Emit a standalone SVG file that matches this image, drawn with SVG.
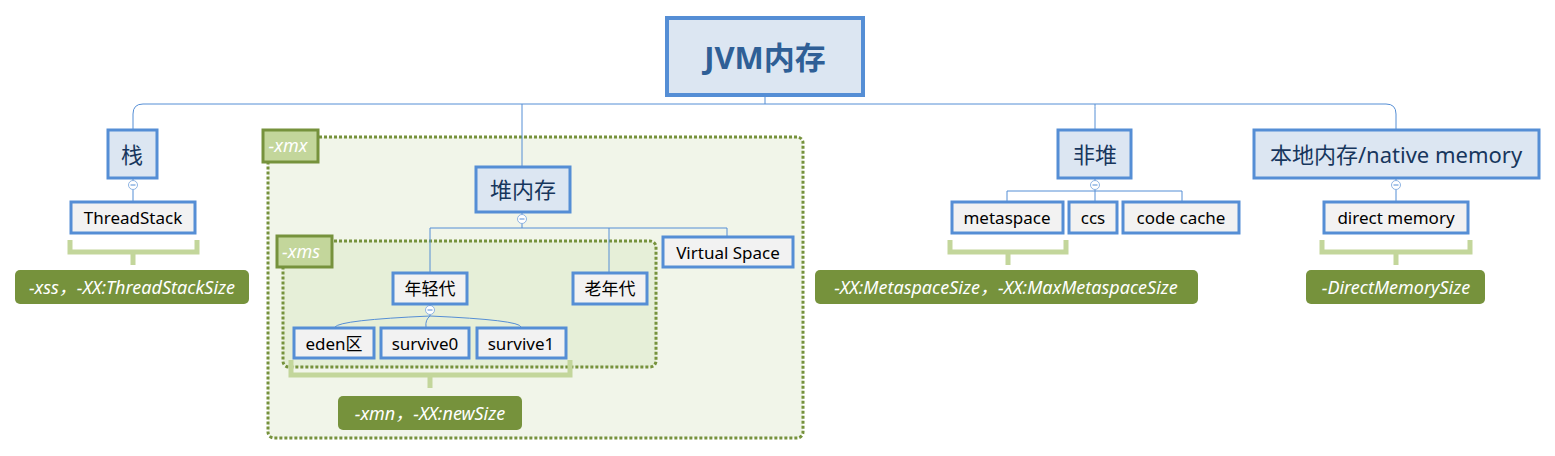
<svg xmlns="http://www.w3.org/2000/svg" width="1555" height="456" viewBox="0 0 1555 456">
<style>
text{font-family:"Noto Sans","Noto Sans CJK SC",sans-serif;text-anchor:middle;dominant-baseline:central}
.main{fill:#dce6f2;stroke:#558ed5;stroke-width:3}
.sub{fill:#f2f2f2;stroke:#558ed5;stroke-width:3}
.t1{font-size:22px;fill:#17365d}
.t2{font-size:17px;fill:#000}
.lab{fill:#76923c}
.lt{font-size:18px;fill:#fff;font-style:italic}
.br{fill:none;stroke:#c3d69b;stroke-width:5}
.con{fill:none;stroke:#558ed5;stroke-width:1}
.col{fill:#fff;stroke:#8eb4e3;stroke-width:1}
.tag{fill:#c3d69b;stroke:#76923c;stroke-width:3}
.tt{font-size:18px;fill:#fff;font-style:italic}
.zone{stroke:#76923c;stroke-width:3;stroke-dasharray:3 2}
</style>
<g id="zone-xmx">
<rect x="268" y="137" width="535" height="301" rx="6" class="zone" fill="#f1f5e9"/>
<rect x="263" y="130" width="55" height="32" class="tag"/>
<text x="288" y="145" class="tt">-xmx</text>
</g>
<g id="zone-xms">
<rect x="283" y="241" width="373" height="126" rx="6" class="zone" fill="#e6efd8"/>
<rect x="277" y="236" width="55" height="31" class="tag"/>
<text x="301" y="251" class="tt">-xms</text>
</g>
<g id="connectors">
<path class="con" d="M765 97V104M133 129V114Q133 104 143 104H1386Q1396 104 1396 114V129M522 104V166M1095 104Q1095 104 1095 114V129"/>
<path class="con" d="M133 178V201M1396 178V201"/>
<path class="con" d="M522 212V228M430 228H727M430 228V272M609 228V272M727 228V236"/>
<path class="con" d="M1095 178V191M1007 191H1182M1007 191V201M1095 191V201M1182 191V201"/>
<path class="con" d="M430 304V316M335 327Q340 320 430 316Q520 320 521 327M430 316Q425 320 426 327"/>
<circle cx="133" cy="185" r="4.5" class="col"/>
<circle cx="522" cy="219" r="4.5" class="col"/>
<circle cx="430" cy="310" r="4.5" class="col"/>
<circle cx="1095" cy="185" r="4.5" class="col"/>
<circle cx="1396" cy="185" r="4.5" class="col"/>
<path d="M130.5 185h5M519.5 219h5M427.5 310h5M1092.5 185h5M1393.5 185h5" stroke="#558ed5" stroke-width="1"/>
</g>
<g id="root">
<rect x="667" y="18" width="196" height="77" fill="#dce6f2" stroke="#558ed5" stroke-width="4"/>
<text x="765" y="57" font-size="31" font-weight="bold" fill="#2f5f96">JVM内存</text>
</g>
<g id="stack">
<rect x="108" y="130" width="49" height="48" class="main"/>
<text x="132" y="154" class="t1">栈</text>
</g>
<g id="threadstack">
<rect x="71" y="202" width="124" height="31" class="sub"/>
<text x="133" y="217" class="t2">ThreadStack</text>
</g>
<g id="bracket-stack">
<path class="br" d="M70 240V252H197V240M133 252V265"/>
<rect x="15" y="270" width="234" height="34" rx="5" class="lab"/>
<text x="132" y="287" class="lt">-xss，-XX:ThreadStackSize</text>
</g>
<g id="heap">
<rect x="476" y="167" width="94" height="45" class="main"/>
<text x="523" y="189" class="t1">堆内存</text>
</g>
<g id="young">
<rect x="393" y="273" width="74" height="31" class="sub"/>
<text x="430" y="288" class="t2">年轻代</text>
</g>
<g id="old">
<rect x="573" y="273" width="74" height="31" class="sub"/>
<text x="610" y="288" class="t2">老年代</text>
</g>
<g id="virtual">
<rect x="663" y="237" width="130" height="30" class="sub"/>
<text x="728" y="252" class="t2">Virtual Space</text>
</g>
<g id="eden">
<rect x="294" y="328" width="80" height="30" class="sub"/>
<text x="334" y="343" class="t2">eden区</text>
</g>
<g id="survive0">
<rect x="381" y="328" width="88" height="30" class="sub"/>
<text x="425" y="343" class="t2">survive0</text>
</g>
<g id="survive1">
<rect x="477" y="328" width="89" height="30" class="sub"/>
<text x="521" y="343" class="t2">survive1</text>
</g>
<g id="bracket-young">
<path class="br" d="M291 360V375H570V360M430 375V388"/>
<rect x="338" y="396" width="184" height="34" rx="5" class="lab"/>
<text x="430" y="413" class="lt">-xmn，-XX:newSize</text>
</g>
<g id="nonheap">
<rect x="1058" y="130" width="73" height="48" class="main"/>
<text x="1095" y="154" class="t1">非堆</text>
</g>
<g id="metaspace">
<rect x="952" y="202" width="111" height="31" class="sub"/>
<text x="1007" y="217" class="t2">metaspace</text>
</g>
<g id="ccs">
<rect x="1069" y="202" width="48" height="31" class="sub"/>
<text x="1093" y="217" class="t2">ccs</text>
</g>
<g id="codecache">
<rect x="1123" y="202" width="116" height="31" class="sub"/>
<text x="1181" y="217" class="t2">code cache</text>
</g>
<g id="bracket-meta">
<path class="br" d="M950 240V252H1066V240M1008 252V265"/>
<rect x="815" y="270" width="383" height="34" rx="5" class="lab"/>
<text x="1006" y="287" class="lt">-XX:MetaspaceSize，-XX:MaxMetaspaceSize</text>
</g>
<g id="native">
<rect x="1254" y="130" width="285" height="48" class="main"/>
<text x="1396" y="154" class="t1">本地内存/native memory</text>
</g>
<g id="direct">
<rect x="1324" y="202" width="144" height="31" class="sub"/>
<text x="1396" y="217" class="t2">direct memory</text>
</g>
<g id="bracket-direct">
<path class="br" d="M1322 240V252H1470V240M1396 252V265"/>
<rect x="1306" y="270" width="179" height="34" rx="5" class="lab"/>
<text x="1396" y="287" class="lt">-DirectMemorySize</text>
</g>
</svg>
